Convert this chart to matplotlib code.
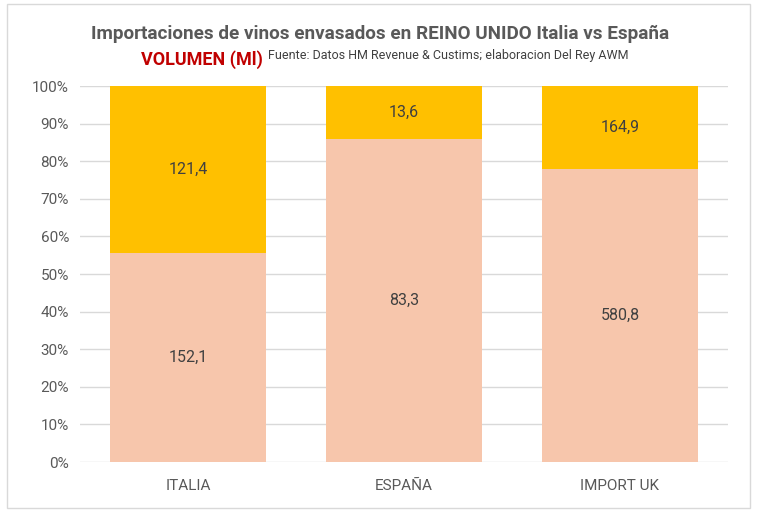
import matplotlib.pyplot as plt
from matplotlib.patches import Rectangle
from matplotlib.ticker import PercentFormatter

# Datos (volumen, Ml)
categorias = ['ITALIA', 'ESPAÑA', 'IMPORT UK']
envasado_inferior = [152.1, 83.3, 580.8]
envasado_superior = [121.4, 13.6, 164.9]

total = [a + b for a, b in zip(envasado_inferior, envasado_superior)]
pct_inf = [a / t * 100 for a, t in zip(envasado_inferior, total)]
pct_sup = [b / t * 100 for b, t in zip(envasado_superior, total)]

color_inf = '#F7C6AC'
color_sup = '#FFC000'

plt.rcParams['font.family'] = ['Roboto', 'DejaVu Sans']

fig = plt.figure(figsize=(7.58, 5.18), dpi=100)
ax = fig.add_axes([80 / 758, (518 - 462) / 518, 648 / 758, 376 / 518])

x = range(len(categorias))
ax.bar(x, pct_inf, 0.72, color=color_inf, zorder=2)
ax.bar(x, pct_sup, 0.72, bottom=pct_inf, color=color_sup, zorder=2)

for i in x:
    ax.text(i, pct_inf[i] / 2, f'{envasado_inferior[i]:.1f}'.replace('.', ','),
            ha='center', va='center', fontsize=11.5, color='#404040')
    ax.text(i, pct_inf[i] + pct_sup[i] / 2, f'{envasado_superior[i]:.1f}'.replace('.', ','),
            ha='center', va='center', fontsize=11.5, color='#404040')

ax.set_xlim(-0.5, 2.5)
ax.set_ylim(0, 100)
ax.set_yticks(range(0, 101, 10))
ax.yaxis.set_major_formatter(PercentFormatter(decimals=0))
ax.set_xticks(list(x))
ax.set_xticklabels(categorias)
ax.tick_params(axis='both', length=0, labelsize=11, colors='#595959', pad=8)
ax.tick_params(axis='x', pad=12)
ax.grid(axis='y', color='#D9D9D9', linewidth=1, zorder=0)
for s in ax.spines.values():
    s.set_visible(False)

fig.text(380 / 758, 1 - 34 / 518, 'Importaciones de vinos envasados en REINO UNIDO Italia vs España',
         ha='center', va='center', fontsize=13.6, fontweight='bold', color='#595959')
fig.text(141 / 758, 1 - 60 / 518, 'VOLUMEN (Ml)', ha='left', va='center',
         fontsize=13, fontweight='bold', color='#C00000')
fig.text(268 / 758, 1 - 55 / 518, 'Fuente: Datos HM Revenue & Custims; elaboracion Del Rey AWM',
         ha='left', va='center', fontsize=9, color='#404040')

# marco del gráfico
fig.patches.append(Rectangle((7 / 758, 10 / 518), 743 / 758, 504 / 518,
                             transform=fig.transFigure, fill=False,
                             edgecolor='#D9D9D9', linewidth=1))

plt.savefig('out.png', dpi=100)
